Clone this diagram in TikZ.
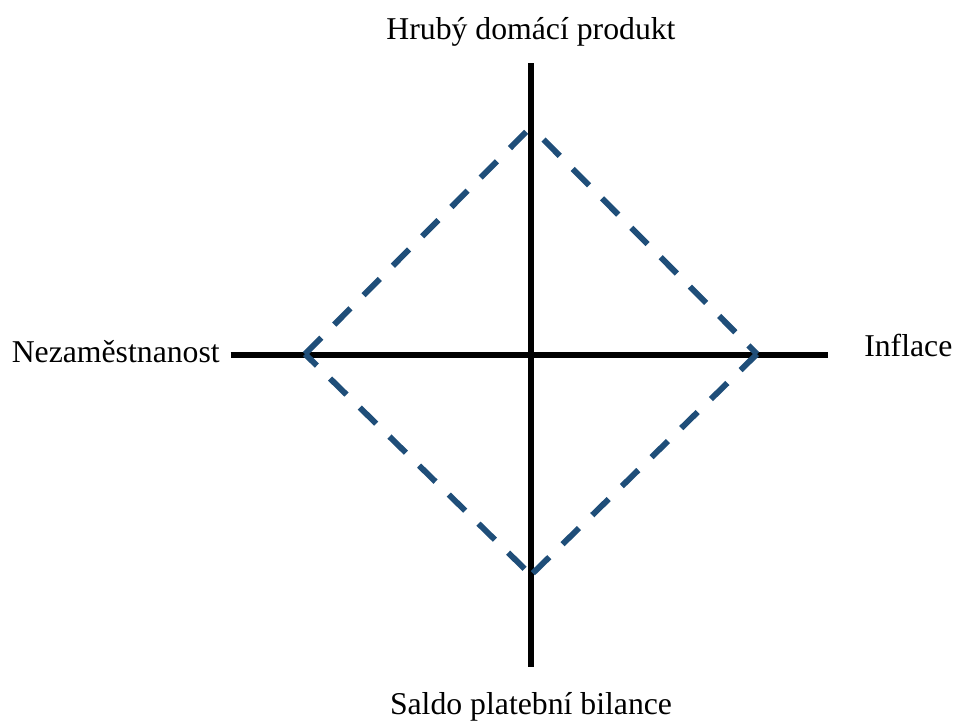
\documentclass[tikz,border=0pt]{standalone}
\usepackage{fontspec}
\setmainfont{Liberation Serif}
\definecolor{diamondblue}{RGB}{31,78,121}
\begin{document}
\begin{tikzpicture}[x=0.75pt,y=-0.75pt,
  axis/.style={line width=4.2pt,black},
  diamondline/.style={line width=4.4pt,diamondblue,dash pattern=on 17.25pt off 13.875pt},
  lbl/.style={inner sep=0pt,font=\fontsize{23.8}{28}\selectfont}]
\useasboundingbox (0,0) rectangle (955,722);
% axes end points
\coordinate (vt) at (531,63);
\coordinate (vb) at (531,667);
\coordinate (hl) at (230.5,355);
\coordinate (hr) at (828,355);
% diamond vertices
\coordinate (T) at (531,127);
\coordinate (R) at (757,354);
\coordinate (B) at (531,575);
\coordinate (L) at (305,354);
% labels
\node[lbl,anchor=base] (gdp) at (531,39) {Hrubý domácí produkt};
\node[lbl,anchor=base] (bop) at (531,714) {Saldo platební bilance};
\node[lbl,anchor=base east] (unemp) at (220,362.7) {Nezaměstnanost};
\node[lbl,anchor=base west] (infl) at (864,356) {Inflace};
% axes
\draw[axis] (vt) -- (vb);
\draw[axis] (hl) -- (hr);
% dashed diamond
\draw[diamondline] (L) -- (T);
\draw[diamondline,dash phase=17.85pt] (T) -- (R);
\draw[diamondline] (R) -- (B);
\draw[diamondline,dash phase=4.8pt] (L) -- (B);
\end{tikzpicture}
\end{document}
